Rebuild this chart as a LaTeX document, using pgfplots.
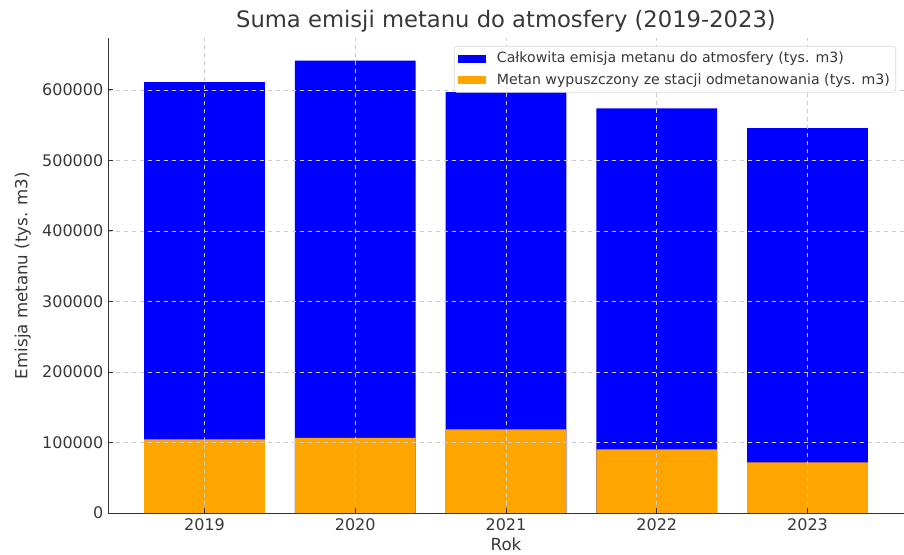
\documentclass[border=0pt]{standalone}
\usepackage{pgfplots}
\pgfplotsset{compat=1.18}
\usepackage{fontspec}
\setmainfont{DejaVu Sans}
\definecolor{txt}{HTML}{383838}
\definecolor{mplblue}{HTML}{0000FF}
\definecolor{mplorange}{HTML}{FFA500}

\begin{document}
\begin{tikzpicture}
% 1px = 0.75pt, picture 904x555 px
\path[use as bounding box] (-81pt,-31.5pt) rectangle (597pt,384.75pt);
\begin{axis}[
    at={(0,0)}, anchor=south west,
    scale only axis,
    width=597pt, height=356.25pt,
    xmin=-0.64, xmax=4.64,
    ymin=0, ymax=673700,
    ybar, bar width=0.8, bar shift=0pt,
    xtick={0,1,2,3,4},
    xticklabels={2019,2020,2021,2022,2023},
    ytick={0,100000,200000,300000,400000,500000,600000},
    scaled y ticks=false,
    /pgf/number format/.cd, fixed, 1000 sep={}, assume math mode=true, /pgfplots/.cd,
    axis lines*=left,
    axis line style={black!80, line width=0.7pt},
    tick align=inside,
    major tick length=3.5pt,
    tick style={black!80, line width=0.7pt},
    ticklabel style={font=\fontsize{12}{14}\selectfont, text=txt},
    xticklabel style={yshift=-1pt},
    grid=major,
    grid style={dashed, black!20, line width=0.5pt},
    axis on top,
    title={Suma emisji metanu do atmosfery (2019-2023)},
    title style={font=\fontsize{17}{20}\selectfont, text=txt, at={(0.5,1)}, anchor=base, yshift=1.75pt},
    xlabel={Rok},
    ylabel={Emisja metanu (tys. m3)},
    label style={font=\fontsize{12.5}{15}\selectfont, text=txt},
    xlabel style={at={(axis description cs:0.5,0)}, anchor=base, yshift=-28.5pt},
    ylabel style={at={(axis description cs:0,0.5)}, anchor=center, yshift=64pt},
    legend style={at={(1,1)}, anchor=north east, xshift=-6pt, yshift=-6pt,
        draw=black!15, rounded corners=2pt, fill=white, fill opacity=0.85, text opacity=1,
        font=\fontsize{10.6}{12.5}\selectfont, text=txt, row sep=2.5pt, inner sep=2.5pt},
    legend cell align=left,
    legend image code/.code={\fill[sharp corners, fill opacity=1] (0pt,-3pt) rectangle (21pt,3pt); \path (27.5pt,0pt);},
]
\addplot[fill=mplblue, draw=none] coordinates {
    (0,611000) (1,641500) (2,597000) (3,574000) (4,545700)
};
\addlegendentry{Całkowita emisja metanu do atmosfery (tys. m3)}
\addplot[fill=mplorange, draw=none] coordinates {
    (0,104500) (1,106400) (2,118700) (3,90300) (4,71900)
};
\addlegendentry{Metan wypuszczony ze stacji odmetanowania (tys. m3)}
\end{axis}
\end{tikzpicture}
\end{document}
